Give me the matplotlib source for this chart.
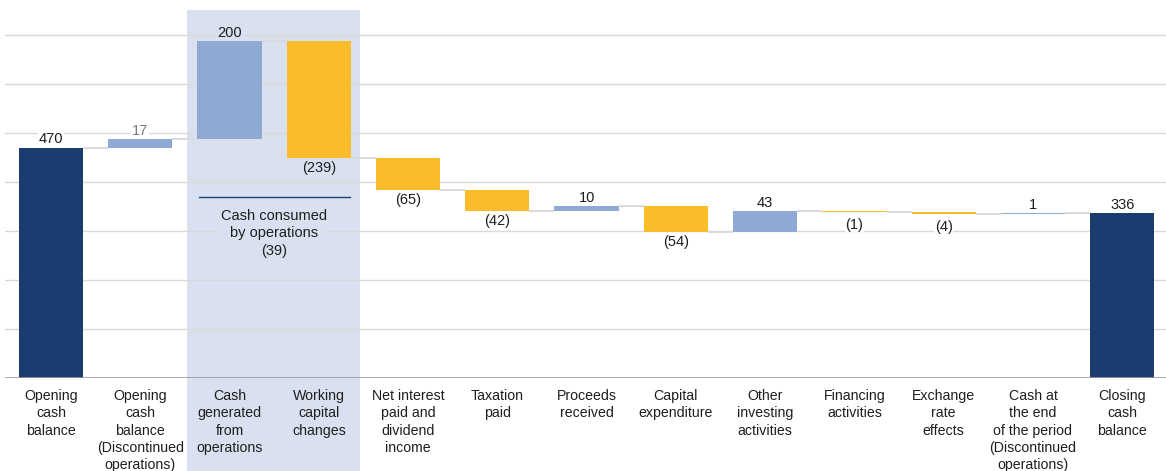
import numpy as np
import matplotlib
matplotlib.use("Agg")
import matplotlib.pyplot as plt
from matplotlib.font_manager import fontManager

categories = [
    "Opening\ncash\nbalance",
    "Opening\ncash\nbalance\n(Discontinued\noperations)",
    "Cash\ngenerated\nfrom\noperations",
    "Working\ncapital\nchanges",
    "Net interest\npaid and\ndividend\nincome",
    "Taxation\npaid",
    "Proceeds\nreceived",
    "Capital\nexpenditure",
    "Other\ninvesting\nactivities",
    "Financing\nactivities",
    "Exchange\nrate\neffects",
    "Cash at\nthe end\nof the period\n(Discontinued\noperations)",
    "Closing\ncash\nbalance",
]
opening = 470
changes = [17, 200, -239, -65, -42, 10, -54, 43, -1, -4, 1]
closing = 336
consumed = -39

NAVY = "#1a3c6e"
BLUE = "#8eaad4"
GOLD = "#fbbc2b"
SHADE = "#d9e1f0"
GRID = "#d9d9d9"
TXT = "#1e1e1e"

names = {f.name for f in fontManager.ttflist}
fam = [f for f in ["Liberation Sans Narrow", "Liberation Sans", "DejaVu Sans"] if f in names]
plt.rcParams["font.family"] = fam
plt.rcParams["font.size"] = 10

# build waterfall geometry from the values
levels = [opening]
for c in changes:
    levels.append(levels[-1] + c)
bottoms = [0]
heights = [opening]
colors = [NAVY]
for i, c in enumerate(changes):
    bottoms.append(min(levels[i], levels[i + 1]))
    heights.append(abs(c))
    colors.append(BLUE if c > 0 else GOLD)
bottoms.append(0)
heights.append(closing)
colors.append(NAVY)

fig = plt.figure(figsize=(11.66, 4.71), dpi=100)
ax = fig.add_axes([5 / 1166, 93 / 471, 1 - 5 / 1166, 368 / 471])
x = np.arange(len(categories))
w = 0.72

# shaded operations block
ax.add_patch(plt.Rectangle((1.52, -195), 1.94, 946, facecolor=SHADE,
                           edgecolor="none", zorder=0, clip_on=False))

for yv in range(100, 800, 100):
    ax.axhline(yv, color=GRID, lw=1, zorder=0.5)
ax.axhline(0, color="#9a9a9a", lw=1.2, zorder=3)

ax.bar(x, heights, bottom=bottoms, width=w, color=colors, zorder=2)

# connectors
for i in range(len(categories) - 1):
    lvl = levels[i] if i < len(levels) else closing
    ax.plot([x[i] + w / 2, x[i + 1] - w / 2], [lvl, lvl], color="#dadada",
            lw=1.5, zorder=1.5, solid_capstyle="butt")

# value labels
def lbl(i, txt, y, va, color=TXT):
    bg = SHADE if i in (2, 3) else "white"
    ax.text(x[i], y, txt, ha="center", va=va, color=color, fontsize=10.5, zorder=4,
            bbox=dict(facecolor=bg, edgecolor="none", pad=0.5))

lbl(0, str(opening), opening + 3, "bottom")
for i, c in enumerate(changes):
    top = bottoms[i + 1] + heights[i + 1]
    if c > 0:
        lbl(i + 1, str(c), top + 3, "bottom", "#7a7a7a" if i == 0 else TXT)
    else:
        off = 12 if abs(c) < 5 else 6
        lbl(i + 1, "(%d)" % -c, bottoms[i + 1] - off, "top")
lbl(12, str(closing), closing + 3, "bottom")

# cash consumed annotation
ax.plot([1.66, 3.35], [370, 370], color="#1f3f73", lw=1, zorder=3)
ax.text(2.5, 345, "Cash consumed\nby operations\n(%d)" % -consumed, ha="center", va="top",
        fontsize=10.5, color=TXT, linespacing=1.3, zorder=4,
        bbox=dict(facecolor=SHADE, edgecolor="none", pad=1))

ax.set_xlim(-0.515, 12.49)
ax.set_ylim(0, 751)
ax.set_xticks(x)
ax.set_xticklabels(categories, fontsize=10.2, color=TXT, linespacing=1.3, va="top")
ax.tick_params(axis="x", length=0, pad=8)
ax.set_yticks([])
for s in ax.spines.values():
    s.set_visible(False)

fig.savefig("out.png", dpi=100)
